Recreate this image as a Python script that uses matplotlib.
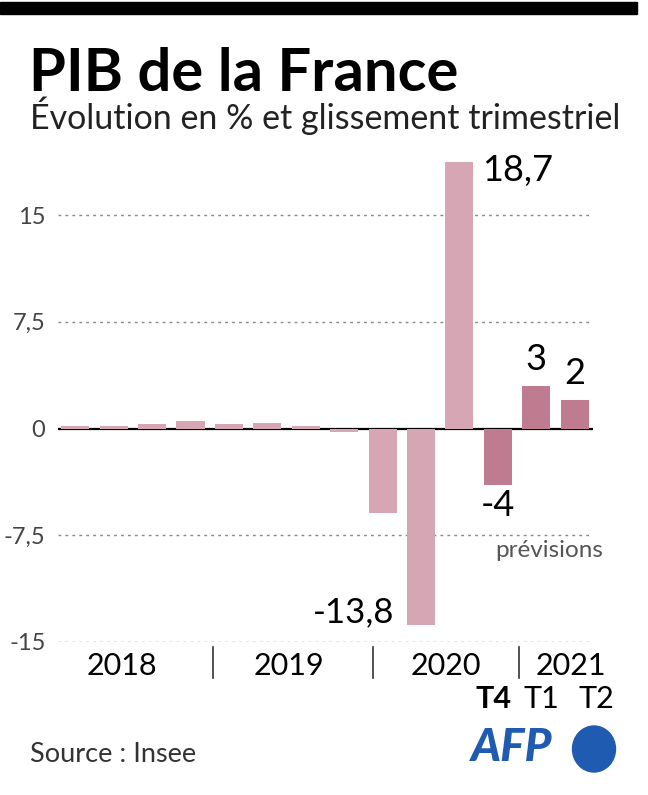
import matplotlib
matplotlib.use("Agg")
import matplotlib.pyplot as plt
from matplotlib.patches import Rectangle, Ellipse
import matplotlib.transforms as mtransforms

# ---- data ----
quarters = ["2018T1", "2018T2", "2018T3", "2018T4",
            "2019T1", "2019T2", "2019T3", "2019T4",
            "2020T1", "2020T2", "2020T3", "2020T4",
            "2021T1", "2021T2"]
values = [0.2, 0.15, 0.3, 0.5, 0.3, 0.4, 0.15, -0.25,
          -5.9, -13.8, 18.7, -4.0, 3.0, 2.0]
forecast = [False] * 11 + [True, True, True]
ytick_vals = [-15, -7.5, 0, 7.5, 15]
ytick_labels = ["-15", "-7,5", "0", "7,5", "15"]
years = ["2018", "2019", "2020", "2021"]
quarter_labels = ["T4", "T1", "T2"]
bar_labels = {10: "18,7", 9: "-13,8", 11: "-4", 12: "3", 13: "2"}

W, H = 648, 795
FONT = ["Lato", "DejaVu Sans"]
plt.rcParams["font.family"] = FONT

fig = plt.figure(figsize=(W / 100, H / 100), dpi=100)


def fx(px):
    return px / W


def fy(py):
    return 1 - py / H


# top black band
fig.patches.append(Rectangle((0, fy(14)), fx(637), (12) / H,
                             transform=fig.transFigure, color="black", zorder=5))

fig.text(fx(29), fy(91), "PIB de la France", fontsize=43, fontweight="bold",
         color="black", va="baseline", ha="left")
fig.text(fx(30), fy(129), "Évolution en % et glissement trimestriel",
         fontsize=24.5, color="#222222", va="baseline", ha="left")

ax = fig.add_axes([fx(58), fy(642), fx(593) - fx(58), (642 - 161) / H])
x = list(range(len(values)))
light = "#d6a6b5"
dark = "#bf7b90"
colors = [dark if f else light for f in forecast]
ax.bar(x, values, width=0.73, color=colors, zorder=3)
ax.set_xlim(-0.45, 13.48)
ax.set_ylim(-15, 18.8)

for v in ytick_vals:
    if v == 0:
        ax.axhline(0, color="black", lw=1.6, zorder=2)
    else:
        ax.axhline(v, color="#888888", lw=1.0, ls=(0, (2, 3)), zorder=1)

ax.set_yticks(ytick_vals)
ax.set_yticklabels(ytick_labels, fontsize=17, color="#444444")
ax.tick_params(axis="y", length=0, pad=9)
ax.set_xticks([])
for s in ax.spines.values():
    s.set_visible(False)

# value labels
ax.text(10.6, 18.1, bar_labels[10], fontsize=26, ha="left", va="center")
ax.text(8.3, -12.9, bar_labels[9], fontsize=25, ha="right", va="center")
ax.text(11, -5.4, bar_labels[11], fontsize=26, ha="center", va="center")
ax.text(12, 3.0 + 0.7, bar_labels[12], fontsize=26, ha="center", va="bottom")
ax.text(13, 2.0 + 0.7, bar_labels[13], fontsize=26, ha="center", va="bottom")
ax.text(13.75, -8.6, "prévisions", fontsize=17.5, color="#555555",
        ha="right", va="center")

# year labels & separators
trans = mtransforms.blended_transform_factory(ax.transData, fig.transFigure)
for xpos, yr in zip([1.22, 5.55, 9.66, 12.9], years):
    ax.text(xpos, fy(666), yr, transform=trans, fontsize=22, ha="center",
            va="center", color="black")
for xpos in [3.59, 7.76, 11.56]:
    ax.plot([xpos, xpos], [fy(647), fy(678)], transform=trans, color="#333333",
            lw=1.2, clip_on=False)

for xpos, lab, bold in zip([10.9, 12.14, 13.57], quarter_labels, [True, False, False]):
    ax.text(xpos, fy(699), lab, transform=trans, fontsize=22, ha="center",
            va="center", color="black", fontweight="bold" if bold else "normal")

fig.text(fx(30), fy(755), "Source : Insee", fontsize=19.5, color="#333333",
         ha="left", va="center")

# AFP logo
blue = "#1f5bb0"
fig.text(fx(471), fy(748), "AFP", fontsize=33, fontweight="black", style="italic",
         color=blue, ha="left", va="center")
fig.patches.append(Ellipse((fx(594), fy(749)), 43 / W, 46 / H,
                           transform=fig.transFigure, color=blue))

fig.savefig("out.png", dpi=100)
